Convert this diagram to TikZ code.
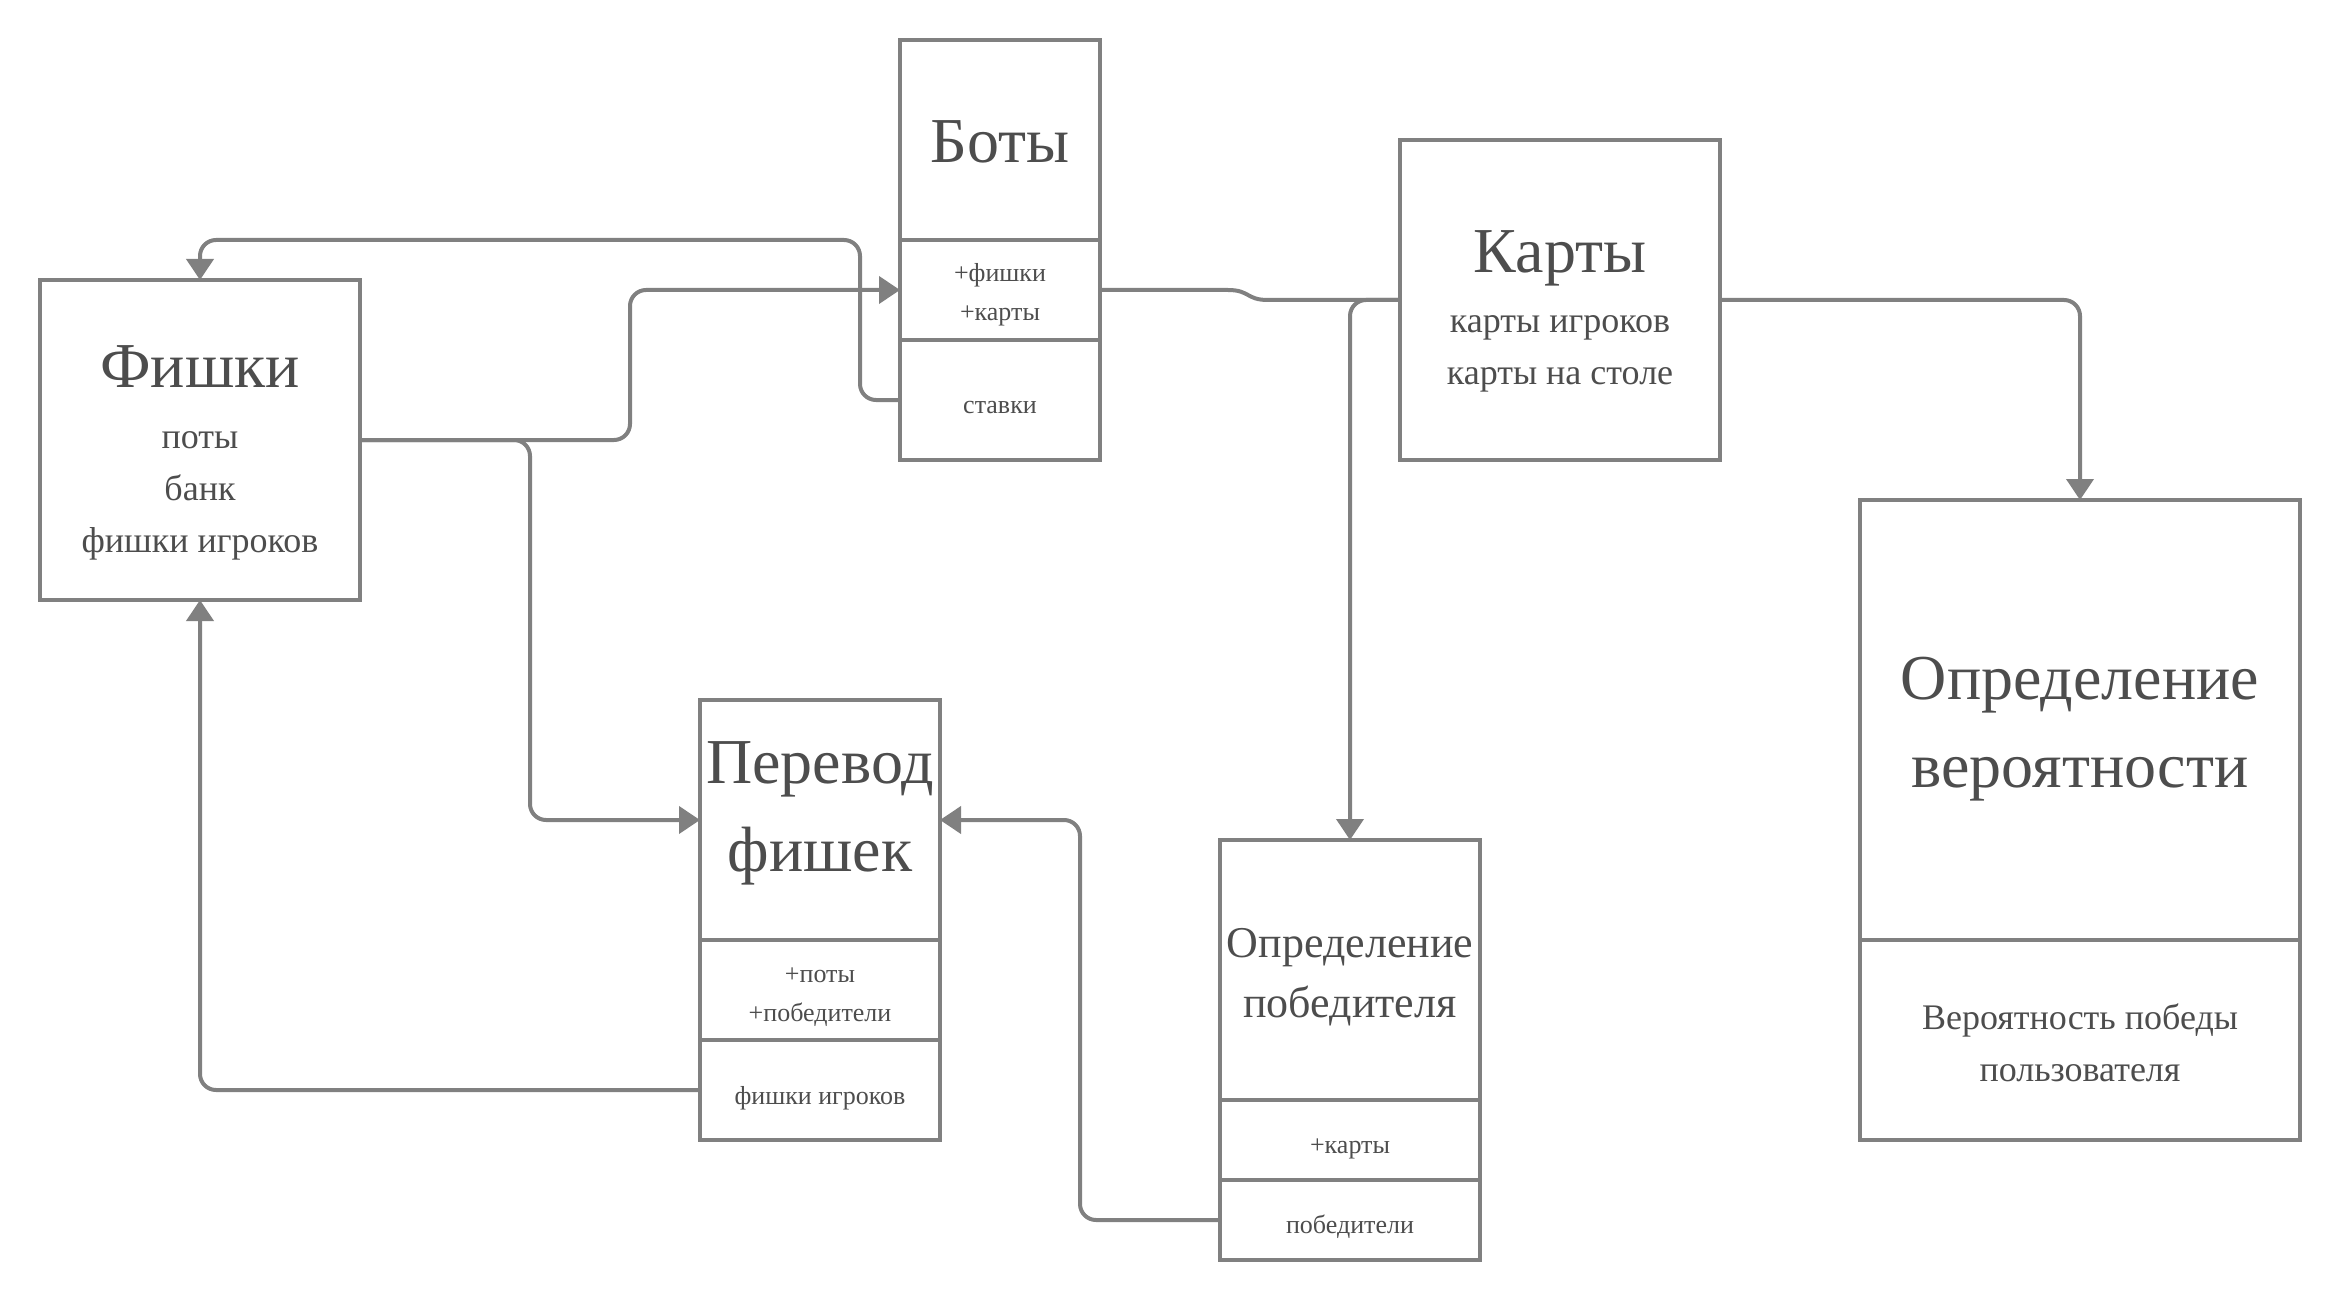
\documentclass[tikz,border=0pt]{standalone}
\usepackage{fontspec}
\setmainfont{Liberation Serif}
\usetikzlibrary{arrows.meta}
\definecolor{ln}{HTML}{808080}
\definecolor{tx}{HTML}{4D4D4D}
\begin{document}
\begin{tikzpicture}[x=0.5pt,y=-0.5pt,
  comp/.style={draw=ln,line width=2pt,inner sep=0pt,outer sep=0pt,anchor=north west},
  big/.style={text=tx,inner sep=0pt,anchor=base,font=\fontsize{32}{38}\selectfont},
  mid/.style={text=tx,inner sep=0pt,anchor=base,font=\fontsize{22}{26}\selectfont},
  sub/.style={text=tx,inner sep=0pt,anchor=base,font=\fontsize{18}{22}\selectfont},
  small/.style={text=tx,inner sep=0pt,anchor=base,font=\fontsize{13}{16}\selectfont},
  conn/.style={draw=ln,line width=2pt,rounded corners=8pt},
  arr/.style={-{Triangle[width=13.5pt,length=10.5pt]}}]
\useasboundingbox (0,0) rectangle (2340,1300);

% boxes
\node[comp,minimum width=160pt,minimum height=160pt] (fishki) at (40,280) {};
\node[comp,minimum width=100pt,minimum height=100pt] (botsT) at (900,40) {};
\node[comp,minimum width=100pt,minimum height=50pt] (botsA) at (900,240) {};
\node[comp,minimum width=100pt,minimum height=60pt] (botsO) at (900,340) {};
\node[comp,minimum width=160pt,minimum height=160pt] (karty) at (1400,140) {};
\node[comp,minimum width=120pt,minimum height=120pt] (perT) at (700,700) {};
\node[comp,minimum width=120pt,minimum height=50pt] (perA) at (700,940) {};
\node[comp,minimum width=120pt,minimum height=50pt] (perO) at (700,1040) {};
\node[comp,minimum width=130pt,minimum height=130pt] (pobT) at (1220,840) {};
\node[comp,minimum width=130pt,minimum height=40pt] (pobA) at (1220,1100) {};
\node[comp,minimum width=130pt,minimum height=40pt] (pobO) at (1220,1180) {};
\node[comp,minimum width=220pt,minimum height=220pt] (verT) at (1860,500) {};
\node[comp,minimum width=220pt,minimum height=100pt] (verO) at (1860,940) {};

% texts
\node[big] (t1) at (200,387) {Фишки};
\node[sub] (t2) at (200,448) {поты};
\node[sub] (t3) at (200,500) {банк};
\node[sub] (t4) at (200,552) {фишки игроков};
\node[big] (t5) at (1000,163) {Боты};
\node[small] (t6) at (1000,282) {+фишки};
\node[small] (t7) at (1000,321) {+карты};
\node[small] (t8) at (1000,413) {ставки};
\node[big] (t9) at (1560,273) {Карты};
\node[sub] (t10) at (1560,333) {карты игроков};
\node[sub] (t11) at (1560,385) {карты на столе};
\node[big] (t12) at (820,783) {Перевод};
\node[big] (t13) at (820,871) {фишек};
\node[small] (t14) at (820,982) {+поты};
\node[small] (t15) at (820,1021) {+победители};
\node[small] (t16) at (820,1104) {фишки игроков};
\node[mid] (t17) at (1350,957) {Определение};
\node[mid] (t18) at (1350,1017) {победителя};
\node[small] (t19) at (1350,1153) {+карты};
\node[small] (t20) at (1350,1233) {победители};
\node[big] (t21) at (2080,699) {Определение};
\node[big] (t22) at (2080,787) {вероятности};
\node[sub] (t23) at (2080,1029) {Вероятность победы};
\node[sub] (t24) at (2080,1081) {пользователя};

% connector helpers
\coordinate (c1) at (860,240);
\coordinate (c2) at (630,0);
\coordinate (c3) at (530,0);
\coordinate (c4) at (1080,0);
\coordinate (j1) at (1228,290);
\coordinate (j2) at (1268,300);

% connectors
\draw[conn,arr] (botsO.west) -| (c1) -| (fishki.north);
\draw[conn,arr] (fishki.east) -| (c2 |- botsA.west) -- (botsA.west);
\draw[conn,arr] (fishki.east) -| (c3 |- perT.west) -- (perT.west);
\draw[conn,arr] (perO.west) -| (fishki.south);
\draw[conn,arr] (pobO.west) -| (c4 |- perT.east) -- (perT.east);
\draw[draw=ln,line width=2pt] (botsA.east) -- (j1) .. controls (1250,290) and (1246,300) .. (j2) -- (karty.west);
\draw[conn,arr] (karty.west) -| (pobT.north);
\draw[conn,arr] (karty.east) -| (verT.north);
\end{tikzpicture}
\end{document}
